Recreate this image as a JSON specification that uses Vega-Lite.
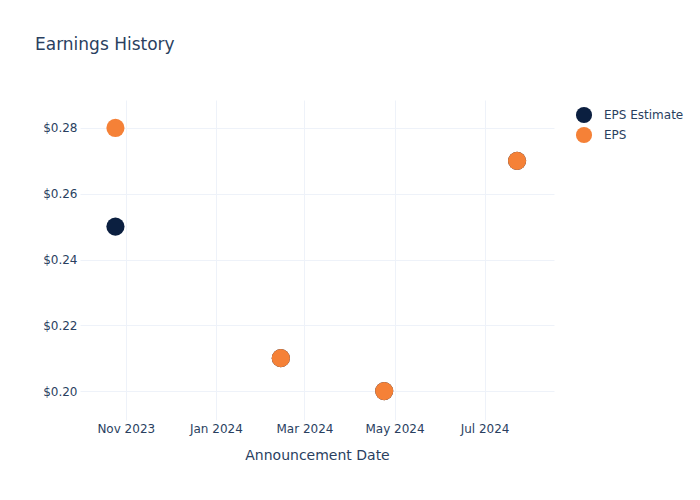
{
  "$schema": "https://vega.github.io/schema/vega-lite/v6.json",
  "width": 474,
  "height": 320,
  "autosize": {"type": "none"},
  "padding": {"left": 80, "top": 100, "right": 146, "bottom": 80},
  "background": "white",
  "title": {
    "text": "Earnings History",
    "anchor": "start",
    "frame": "group",
    "dx": -45,
    "offset": 46,
    "font": "DejaVu Sans",
    "fontSize": 17,
    "fontWeight": "normal",
    "color": "#2a3f5f"
  },
  "config": {
    "view": {"stroke": null},
    "font": "DejaVu Sans"
  },
  "data": {
    "values": [
      {"date": "2023-10-25", "series": "EPS Estimate", "value": 0.25},
      {"date": "2024-02-14", "series": "EPS Estimate", "value": 0.21},
      {"date": "2024-04-24", "series": "EPS Estimate", "value": 0.20},
      {"date": "2024-07-23", "series": "EPS Estimate", "value": 0.27},
      {"date": "2023-10-25", "series": "EPS", "value": 0.28},
      {"date": "2024-02-14", "series": "EPS", "value": 0.21},
      {"date": "2024-04-24", "series": "EPS", "value": 0.20},
      {"date": "2024-07-23", "series": "EPS", "value": 0.27}
    ]
  },
  "mark": {"type": "point", "filled": true, "opacity": 1, "size": 330, "shape": "circle"},
  "encoding": {
    "x": {
      "field": "date",
      "type": "temporal",
      "scale": {"domain": [{"year": 2023, "month": 10, "date": 1}, {"year": 2024, "month": 8, "date": 17}]},
      "axis": {
        "title": "Announcement Date",
        "values": [
          {"year": 2023, "month": 11, "date": 1},
          {"year": 2024, "month": 1, "date": 1},
          {"year": 2024, "month": 3, "date": 1},
          {"year": 2024, "month": 5, "date": 1},
          {"year": 2024, "month": 7, "date": 1}
        ],
        "format": "%b %Y",
        "ticks": false,
        "domain": false,
        "grid": true,
        "gridColor": "#eef2f9",
        "gridWidth": 1,
        "labelFontSize": 12,
        "labelColor": "#2a3f5f",
        "labelPadding": 3,
        "titleFontSize": 14,
        "titleFontWeight": "normal",
        "titleColor": "#2a3f5f",
        "titlePadding": 14
      }
    },
    "y": {
      "field": "value",
      "type": "quantitative",
      "scale": {"domain": [0.1912, 0.2885], "nice": false, "zero": false},
      "axis": {
        "title": null,
        "values": [0.20, 0.22, 0.24, 0.26, 0.28],
        "format": "$.2f",
        "ticks": false,
        "domain": false,
        "grid": true,
        "gridColor": "#eef2f9",
        "gridWidth": 1,
        "labelFontSize": 12,
        "labelColor": "#2a3f5f",
        "labelPadding": 3
      }
    },
    "color": {
      "field": "series",
      "type": "nominal",
      "scale": {"domain": ["EPS Estimate", "EPS"], "range": ["#0b1f40", "#f58137"]},
      "legend": {
        "title": null,
        "orient": "none",
        "legendX": 495,
        "legendY": 6,
        "symbolType": "circle",
        "symbolSize": 260,
        "symbolOpacity": 1,
        "labelFontSize": 12,
        "labelColor": "#2a3f5f",
        "labelOffset": 11,
        "rowPadding": 2
      }
    },
    "order": {"field": "series", "sort": "descending"}
  }
}
